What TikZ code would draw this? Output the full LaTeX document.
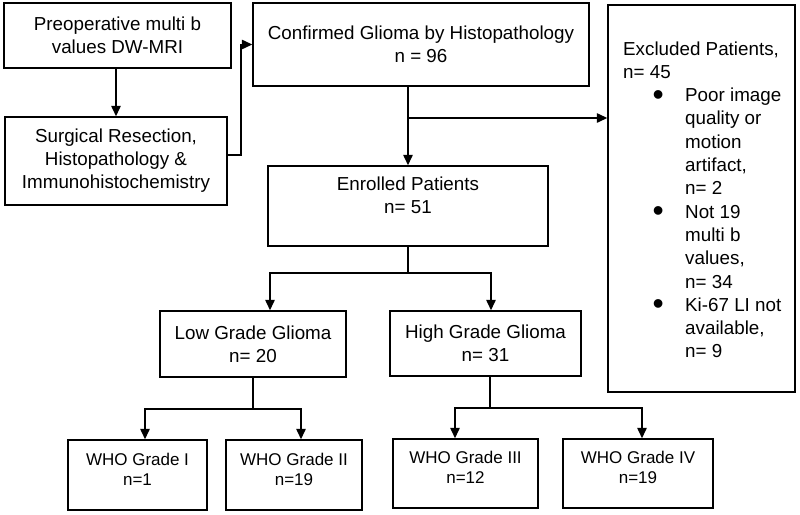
\documentclass[tikz,border=0pt]{standalone}
\usepackage{graphicx}
\usepackage{fontspec}
\setmainfont{Liberation Sans}
\usetikzlibrary{arrows.meta}

\tikzset{
  box/.style={draw, line width=1.5pt, inner sep=0pt, align=center},
  arr/.style={-{Triangle[length=10.5pt,width=9.5pt]}, line width=1.5pt},
  whotext/.style={align=center, inner sep=0pt, font=\fontsize{17}{20}\selectfont}
}
\newcommand{\exbullet}{\hspace*{29.5pt}\raisebox{-3.5pt}{\scalebox{1.7}{\textbullet}}}

\begin{document}
\begin{tikzpicture}[x=1pt, y=-1pt, font=\fontsize{18.8}{23}\selectfont]
  \useasboundingbox (0,0) rectangle (800,514);

  % Imaging and surgery
  \node[box, minimum width=227, minimum height=65] (preop) at (117.5,35.5) {Preoperative multi b\\values DW-MRI};
  \node[box, minimum width=222, minimum height=88] (surg) at (116,161) {Surgical Resection,\\Histopathology \&\\Immunohistochemistry};

  % Confirmed cases
  \node[box, minimum width=336, minimum height=83] (conf) at (421,44.5) {Confirmed Glioma by Histopathology\\n = 96};

  % Enrolled
  \node[box, minimum width=280, minimum height=80] (enr) at (408,206) {};
  \node[align=center, inner sep=0pt] (enrtext) at (408,195) {Enrolled Patients\\n= 51};

  % Excluded
  \node[box, minimum width=187, minimum height=387] (excl) at (701.5,198.5) {};
  \node[anchor=base west, inner sep=0pt, font=\fontsize{18.8}{23.3}\selectfont] (excltext) at (623,55) {%
    \begin{tabular}[t]{@{}p{62pt}@{}l@{}}
      \multicolumn{2}{@{}l@{}}{Excluded Patients,}\\
      \multicolumn{2}{@{}l@{}}{n= 45}\\
      \exbullet & Poor image\\
      & quality or\\
      & motion\\
      & artifact,\\
      & n= 2\\
      \exbullet & Not 19\\
      & multi b\\
      & values,\\
      & n= 34\\
      \exbullet & Ki-67 LI not\\
      & available,\\
      & n= 9
    \end{tabular}};

  % Glioma grades
  \node[box, minimum width=186, minimum height=66] (lgg) at (253,344) {Low Grade Glioma\\n= 20};
  \node[box, minimum width=191, minimum height=65] (hgg) at (485.5,343.5) {High Grade Glioma\\n= 31};

  % WHO grades
  \node[box, minimum width=139, minimum height=70] (who1) at (137.5,475) {};
  \node[whotext] (who1text) at (137.5,469) {WHO Grade I\\n=1};
  \node[box, minimum width=136, minimum height=70] (who2) at (294,475) {};
  \node[whotext] (who2text) at (294,469) {WHO Grade II\\n=19};
  \node[box, minimum width=145, minimum height=69] (who3) at (465.5,473.5) {};
  \node[whotext] (who3text) at (465.5,467) {WHO Grade III\\n=12};
  \node[box, minimum width=150, minimum height=69] (who4) at (638,473.5) {};
  \node[whotext] (who4text) at (638,467) {WHO Grade IV\\n=19};

  % Split points
  \coordinate (exsplit) at (408,118);
  \coordinate (gradesplit) at ([yshift=-26pt]enr.south);
  \coordinate (lowsplit) at ([yshift=-31pt]lgg.south);
  \coordinate (highsplit) at ([xshift=4.5pt, yshift=-31pt]hgg.south);

  % Arrows
  \draw[arr] (preop.south -| surg.north) -- (surg.north);
  \draw[arr] ([yshift=6pt]surg.east) -- ++(13,0) |- (conf.west);
  \draw[arr] (conf.south -| enr.north) -- (enr.north);
  \draw[arr] (exsplit) -- (exsplit -| excl.west);
  \draw[line width=1.5pt] (enr.south) -- (gradesplit);
  \draw[arr] (gradesplit) -| ([xshift=17pt]lgg.north);
  \draw[arr] (gradesplit) -| ([xshift=5.5pt]hgg.north);
  \draw[line width=1.5pt] (lgg.south) -- (lowsplit);
  \draw[arr] (lowsplit) -| ([xshift=7.5pt]who1.north);
  \draw[arr] (lowsplit) -| ([xshift=7pt]who2.north);
  \draw[line width=1.5pt] ([xshift=4.5pt]hgg.south) -- (highsplit);
  \draw[arr] (highsplit) -| ([xshift=-10.5pt]who3.north);
  \draw[arr] (highsplit) -| ([xshift=4pt]who4.north);
\end{tikzpicture}
\end{document}
